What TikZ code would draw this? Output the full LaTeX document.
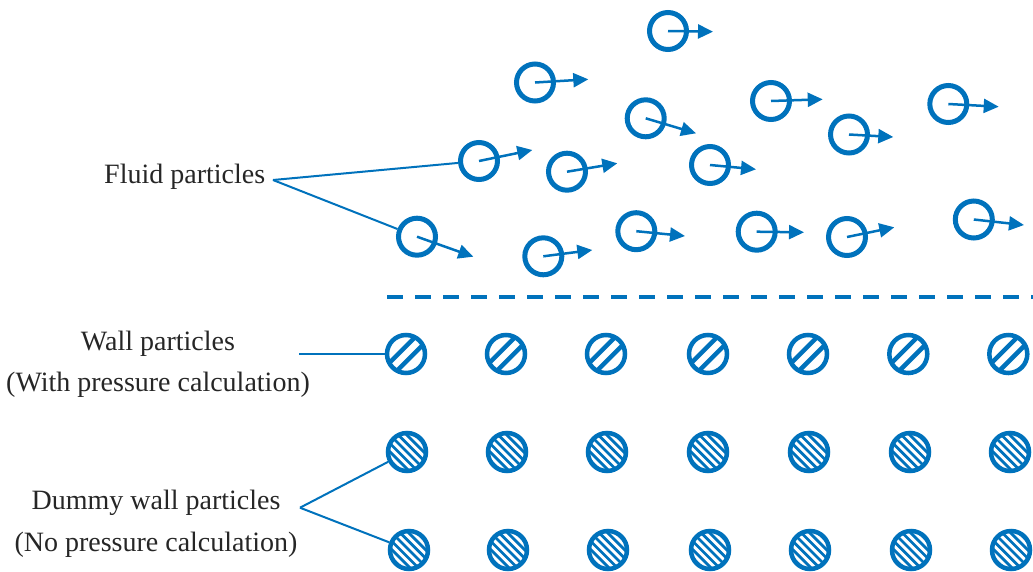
\documentclass[tikz,border=0pt]{standalone}
\usepackage{fontspec}
\setmainfont{Liberation Serif}
\usetikzlibrary{arrows.meta,calc}
\definecolor{pblue}{RGB}{0,114,188}
\begin{document}
\begin{tikzpicture}[x=1pt,y=-1pt,
  fluid/.style={circle, draw=pblue, line width=5pt, minimum size=37pt, inner sep=0pt},
  vel/.style={draw=pblue, line width=2.5pt, -{Triangle[length=15pt,width=14pt]}},
  wallp/.style={circle, draw=pblue, fill=white, line width=4.5pt, minimum size=38pt, inner sep=0pt,
    path picture={\foreach \o in {-3.9,3.9}{\draw[pblue, line width=4.5pt] ($(path picture bounding box.center)+(\o-25,\o+25)$) -- ++(50,-50);}}},
  dummyp/.style={circle, draw=pblue, fill=white, line width=4.5pt, minimum size=38pt, inner sep=0pt,
    path picture={\foreach \k in {-3,...,3}{\draw[pblue, line width=2.8pt] ($(path picture bounding box.center)+(\k*4.24-25,-\k*4.24-25)$) -- ++(50,50);}}},
  lbl/.style={inner sep=0pt, font=\fontsize{28}{41.7}\selectfont, text=black!85},
  lead/.style={draw=pblue, line width=2pt},
  sep/.style={draw=pblue, line width=4pt, dash pattern=on 16pt off 12pt}
]
\useasboundingbox (0,0) rectangle (1033,571);

% fluid particles with velocity arrows
\foreach \n/\x/\y/\tx/\ty in {
  1/668/31/713/31.7,
  2/535/82.5/588.3/79.3,
  3/771/101/822.7/99.3,
  4/645.7/118.3/696/133.3,
  5/948.3/104/998.7/106.7,
  6/849/134.5/893.3/137,
  7/479/161/532.3/150,
  8/567/171.7/617.3/163.3,
  9/710/165/756/169.3,
  10/417/236.7/473.3/256.7,
  11/543.3/256.3/592.3/250,
  12/636.3/231.2/685/236,
  13/756.7/231.7/804/232.3,
  14/847/237/894.3/227.3,
  15/973.8/219.5/1024/225}{
  \node[fluid] (f\n) at (\x,\y) {};
  \coordinate (v\n) at (\tx,\ty);
  \draw[vel] (f\n.center) -- (v\n);
}

% separation line
\draw[sep] (387,297) -- (1040,297);

% wall particles
\foreach \n/\x in {1/406,2/506,3/606,4/708,5/808,6/908.3,7/1008.3}{
  \node[wallp] (w\n) at (\x,354) {};
}
% dummy wall particles
\foreach \n/\x in {1/407,2/507,3/607,4/708,5/809,6/910,7/1010}{
  \node[dummyp] (da\n) at (\x,452) {};
}
\foreach \n/\x in {1/409,2/508,3/608,4/710,5/810,6/911,7/1011}{
  \node[dummyp] (db\n) at (\x,550) {};
}

% labels
\node[lbl, anchor=base west] (tfl) at (104,183.3) {Fluid particles};
\node[lbl, align=center] (twall) at (158,364.4) {Wall particles\\(With pressure calculation)};
\node[lbl, align=center] (tdum) at (156,523.5) {Dummy wall particles\\(No pressure calculation)};

\coordinate (fj) at (273,180);
\coordinate (wj) at (299,354);
\coordinate (dj) at (300,507.7);
\draw[lead] (fj) -- (f7);
\draw[lead] (fj) -- (f10);
\draw[lead] (wj) -- (w1);
\draw[lead] (dj) -- (da1);
\draw[lead] (dj) -- (db1);
\end{tikzpicture}
\end{document}
